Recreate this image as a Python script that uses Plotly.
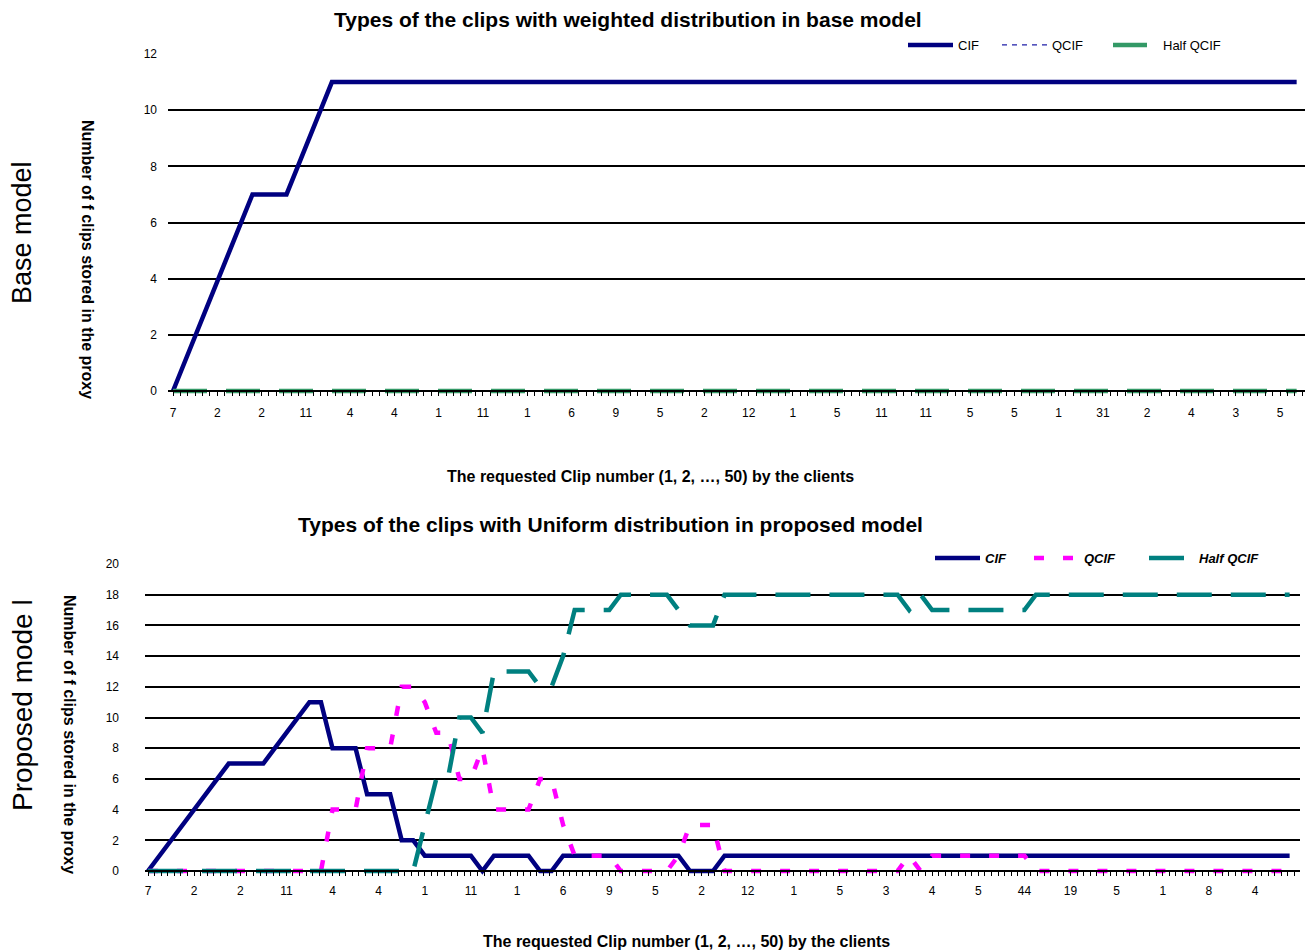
import plotly.graph_objects as go

W, H = 1307, 952
FONT = "Liberation Sans, Arial, sans-serif"

# ---------------- data: base model (top chart) ----------------
top_requests = list(range(100))
top_tick_labels = ["7", "2", "2", "11", "4", "4", "1", "11", "1", "6", "9", "5", "2",
                   "12", "1", "5", "11", "11", "5", "5", "1", "31", "2", "4", "3", "5"]
top_cif = [0, 1, 2, 3, 4, 5, 6, 7, 7, 7, 7, 8, 9, 10, 11, 11, 11, 11, 11, 11,
           11, 11, 11, 11, 11, 11, 11, 11, 11, 11, 11, 11, 11, 11, 11, 11, 11, 11, 11, 11,
           11, 11, 11, 11, 11, 11, 11, 11, 11, 11, 11, 11, 11, 11, 11, 11, 11, 11, 11, 11,
           11, 11, 11, 11, 11, 11, 11, 11, 11, 11, 11, 11, 11, 11, 11, 11, 11, 11, 11, 11,
           11, 11, 11, 11, 11, 11, 11, 11, 11, 11, 11, 11, 11, 11, 11, 11, 11, 11, 11, 11]
top_qcif = [0, 0, 0, 0, 0, 0, 0, 0, 0, 0, 0, 0, 0, 0, 0, 0, 0, 0, 0, 0,
            0, 0, 0, 0, 0, 0, 0, 0, 0, 0, 0, 0, 0, 0, 0, 0, 0, 0, 0, 0,
            0, 0, 0, 0, 0, 0, 0, 0, 0, 0, 0, 0, 0, 0, 0, 0, 0, 0, 0, 0,
            0, 0, 0, 0, 0, 0, 0, 0, 0, 0, 0, 0, 0, 0, 0, 0, 0, 0, 0, 0,
            0, 0, 0, 0, 0, 0, 0, 0, 0, 0, 0, 0, 0, 0, 0, 0, 0, 0, 0, 0]
top_half_qcif = [0, 0, 0, 0, 0, 0, 0, 0, 0, 0, 0, 0, 0, 0, 0, 0, 0, 0, 0, 0,
                 0, 0, 0, 0, 0, 0, 0, 0, 0, 0, 0, 0, 0, 0, 0, 0, 0, 0, 0, 0,
                 0, 0, 0, 0, 0, 0, 0, 0, 0, 0, 0, 0, 0, 0, 0, 0, 0, 0, 0, 0,
                 0, 0, 0, 0, 0, 0, 0, 0, 0, 0, 0, 0, 0, 0, 0, 0, 0, 0, 0, 0,
                 0, 0, 0, 0, 0, 0, 0, 0, 0, 0, 0, 0, 0, 0, 0, 0, 0, 0, 0, 0]

# ---------------- data: proposed model (bottom chart) ----------------
bot_requests = list(range(100))
bot_tick_labels = ["7", "2", "2", "11", "4", "4", "1", "11", "1", "6", "9", "5", "2",
                   "12", "1", "5", "3", "4", "5", "44", "19", "5", "1", "8", "4"]
bot_cif = [0, 1, 2, 3, 4, 5, 6, 7, 7, 7, 7, 8, 9, 10, 11, 11, 8, 8, 8, 5,
           5, 5, 2, 2, 1, 1, 1, 1, 1, 0, 1, 1, 1, 1, 0, 0, 1, 1, 1, 1,
           1, 1, 1, 1, 1, 1, 1, 0, 0, 0, 1, 1, 1, 1, 1, 1, 1, 1, 1, 1,
           1, 1, 1, 1, 1, 1, 1, 1, 1, 1, 1, 1, 1, 1, 1, 1, 1, 1, 1, 1,
           1, 1, 1, 1, 1, 1, 1, 1, 1, 1, 1, 1, 1, 1, 1, 1, 1, 1, 1, 1]
bot_qcif = [0, 0, 0, 0, 0, 0, 0, 0, 0, 0, 0, 0, 0, 0, 0, 0, 4, 4, 4, 8,
            8, 8, 12, 12, 11, 9, 9, 6, 6, 8, 4, 4, 4, 4, 6, 6, 3, 1, 1, 1,
            1, 0, 0, 0, 0, 0, 1, 3, 3, 3, 0, 0, 0, 0, 0, 0, 0, 0, 0, 0,
            0, 0, 0, 0, 0, 0, 1, 0, 1, 1, 1, 1, 1, 1, 1, 1, 1, 0, 0, 0,
            0, 0, 0, 0, 0, 0, 0, 0, 0, 0, 0, 0, 0, 0, 0, 0, 0, 0, 0, 0]
bot_half_qcif = [0, 0, 0, 0, 0, 0, 0, 0, 0, 0, 0, 0, 0, 0, 0, 0, 0, 0, 0, 0,
                 0, 0, 0, 0, 3, 6, 6, 10, 10, 9, 13, 13, 13, 13, 12, 12, 14, 17, 17, 17,
                 17, 18, 18, 18, 18, 18, 17, 16, 16, 16, 18, 18, 18, 18, 18, 18, 18, 18, 18, 18,
                 18, 18, 18, 18, 18, 18, 17, 18, 17, 17, 17, 17, 17, 17, 17, 17, 17, 18, 18, 18,
                 18, 18, 18, 18, 18, 18, 18, 18, 18, 18, 18, 18, 18, 18, 18, 18, 18, 18, 18, 18]

# ---------------- figure ----------------
fig = go.Figure()

fig.add_trace(go.Scatter(x=top_requests, y=top_cif, name="CIF", mode="lines",
                         line=dict(color="#000080", width=4.5),
                         xaxis="x", yaxis="y", legend="legend"))
fig.add_trace(go.Scatter(x=top_requests, y=top_qcif, name="QCIF", mode="lines",
                         line=dict(color="#1F1FA8", width=1.3, dash="5px,5px"),
                         xaxis="x", yaxis="y", legend="legend2"))
fig.add_trace(go.Scatter(x=top_requests, y=top_half_qcif, name="Half QCIF", mode="lines",
                         line=dict(color="#339966", width=4.5, dash="34px,19px"),
                         xaxis="x", yaxis="y", legend="legend3"))

fig.add_trace(go.Scatter(x=bot_requests, y=bot_cif, name="CIF", mode="lines",
                         line=dict(color="#000080", width=4.5),
                         xaxis="x2", yaxis="y2", legend="legend4"))
fig.add_trace(go.Scatter(x=bot_requests, y=bot_qcif, name="QCIF", mode="lines",
                         line=dict(color="#FF00FF", width=4.5, dash="10px,19px"),
                         xaxis="x2", yaxis="y2", legend="legend5"))
fig.add_trace(go.Scatter(x=bot_requests, y=bot_half_qcif, name="Half QCIF", mode="lines",
                         line=dict(color="#008080", width=4.5, dash="35px,19px"),
                         xaxis="x2", yaxis="y2", legend="legend6"))

tick_font = dict(family=FONT, size=12, color="black")

# pixel geometry
TOP_Y0, TOP_Y12 = 391, 54
BOT_Y0, BOT_Y20 = 871, 564
top_ppu = (TOP_Y0 - TOP_Y12) / 12
bot_ppu = (BOT_Y0 - BOT_Y20) / 20
PAD = 4

# top category axis: labels are spread evenly over the request range
TOP_X0, TOP_STEP = 173, 11.35          # px of first request, px per request
TOP_LEFT, TOP_RIGHT = 168, 1305
top_label_step = (1280 - TOP_X0) / TOP_STEP / (len(top_tick_labels) - 1)
top_tickvals = [k * top_label_step for k in range(len(top_tick_labels))]

xaxis_common = dict(
    tickmode="array", showline=True, linecolor="black", linewidth=1.5,
    ticks="outside", ticklen=4, tickcolor="black", tickwidth=1,
    showgrid=False, zeroline=False, tickfont=tick_font, anchor="free",
    automargin=False,
)
yaxis_common = dict(
    showgrid=True, gridcolor="black", gridwidth=1.5, zeroline=False,
    showline=False, ticks="", tickfont=tick_font, automargin=False,
)


def legend_box(left_px, center_px, bold_italic):
    font = dict(family=FONT, size=13, color="black")
    if bold_italic:
        font.update(weight="bold", style="italic")
    return dict(orientation="h", x=left_px / W, xanchor="left",
                y=1 - center_px / H, yanchor="middle", font=font,
                bgcolor="rgba(0,0,0,0)", itemwidth=45, tracegroupgap=0)


fig.update_layout(
    width=W, height=H,
    margin=dict(l=0, r=0, t=0, b=0, autoexpand=False),
    paper_bgcolor="white", plot_bgcolor="white",
    font=dict(family=FONT, color="black"),
    xaxis=dict(**xaxis_common, domain=[TOP_LEFT / W, TOP_RIGHT / W],
               range=[(TOP_LEFT - TOP_X0) / TOP_STEP, (TOP_RIGHT - TOP_X0) / TOP_STEP],
               tickvals=top_tickvals, ticktext=top_tick_labels,
               position=1 - TOP_Y0 / H, ticklabelstandoff=7,
               minor=dict(ticks="outside", ticklen=4, dtick=top_label_step / 6, tick0=0,
                          tickcolor="black", tickwidth=1)),
    yaxis=dict(**yaxis_common, domain=[1 - (TOP_Y0 + PAD) / H, 1 - TOP_Y12 / H],
               range=[-PAD / top_ppu, 12], tickvals=[0, 2, 4, 6, 8, 10, 12],
               anchor="x", ticklabelstandoff=10),
    xaxis2=dict(**xaxis_common, domain=[145 / W, 1300 / W], range=[-0.26, 99.9],
                tickvals=bot_requests[::4], ticktext=bot_tick_labels,
                position=1 - BOT_Y0 / H, ticklabelstandoff=5,
                minor=dict(ticks="outside", ticklen=4, dtick=4 / 7, tick0=0,
                           tickcolor="black", tickwidth=1)),
    yaxis2=dict(**yaxis_common, domain=[1 - (BOT_Y0 + PAD) / H, 1 - BOT_Y20 / H],
                range=[-PAD / bot_ppu, 20], tickvals=list(range(0, 21, 2)),
                anchor="x2", ticklabelstandoff=25),
    legend=legend_box(903, 45, False),
    legend2=legend_box(997, 45, False),
    legend3=legend_box(1108, 45, False),
    legend4=legend_box(930, 558, True),
    legend5=legend_box(1029, 558, True),
    legend6=legend_box(1144, 558, True),
    showlegend=True,
)

annotations = [
    dict(text="<b>Types of the clips with weighted distribution in base model</b>",
         x=628 / W, y=1 - 19 / H, font=dict(size=21)),
    dict(text="<b>Types of the clips with Uniform distribution in proposed model</b>",
         x=610 / W, y=1 - 524 / H, font=dict(size=21)),
    dict(text="<b>The requested Clip number (1, 2, \u2026, 50) by the clients</b>",
         x=650 / W, y=1 - 476 / H, font=dict(size=16)),
    dict(text="<b>The requested Clip number (1, 2, \u2026, 50) by the clients</b>",
         x=686 / W, y=1 - 941 / H, font=dict(size=16)),
    dict(text="<b>Number of f clips stored in the proxy</b>",
         x=87 / W, y=1 - 259 / H, textangle=90, font=dict(size=16)),
    dict(text="<b>Number of f clips stored in the proxy</b>",
         x=70 / W, y=1 - 734 / H, textangle=90, font=dict(size=16)),
    dict(text="Base model", x=22 / W, y=1 - 233 / H, textangle=-90, font=dict(size=27)),
    dict(text="Proposed mode l", x=22 / W, y=1 - 705 / H, textangle=-90, font=dict(size=28)),
]
for a in annotations:
    a.update(xref="paper", yref="paper", showarrow=False, xanchor="center", yanchor="middle")
    a["font"].update(family=FONT, color="black")
fig.update_layout(annotations=annotations)

fig.write_html("out.html", config={"displayModeBar": False},
               post_script="document.body.style.margin='0';")
